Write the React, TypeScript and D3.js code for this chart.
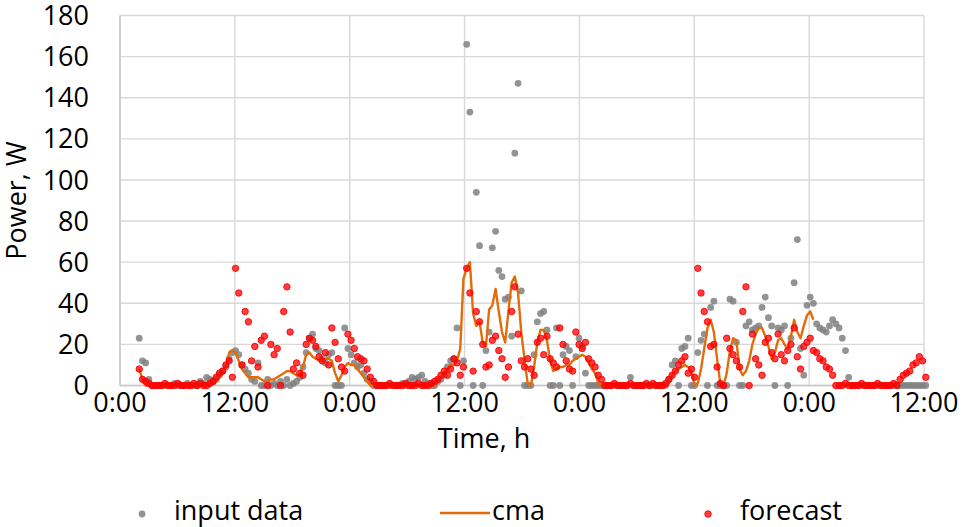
import React from 'react';
import * as d3 from 'd3';

// time of first sample (h) and sampling step (h)
const START_HOUR = 2.01;
const STEP_HOURS = 0.3354;

const xTickHours = [0, 12, 24, 36, 48, 60, 72, 84];
const xTickLabels = ['0:00', '12:00', '0:00', '12:00', '0:00', '12:00', '0:00', '12:00'];
const yTicks = [0, 20, 40, 60, 80, 100, 120, 140, 160, 180];

// input data, W (3 samples per hour, starting 2:00)
const inputData = [
  23, 12, 11, 3, 0, 0, 0, 0, 0, 0, 0, 1, 0, 0, 0, 1, 0, 0, 0, 2, 1, 4, 3, 2,
  3, 5, 7, 9, 13, 16, 17, 15, 10, 8, 6, 3, 2, 11, 0, 0, 3, 0, 1, 0, 2, 0, 3, 0,
  1, 2, 4, 9, 16, 23, 25, 18, 17, 13, 11, 15, 16, 0, 0, 0, 28, 18, 15, 11, 9, 10, 6, 3,
  2, 0, 0, 0, 0, 0, 0, 0, 0, 0, 1, 0, 2, 4, 3, 4, 5, 2, 1, 0, 0, 2, 3, 5,
  9, 12, 13, 28, 0, 12, 166, 133, 0, 94, 68, 0, 17, 26, 67, 75, 56, 53, 42, 43, 24, 113, 147, 46,
  0, 0, 0, 15, 31, 35, 36, 27, 0, 0, 28, 0, 15, 19, 17, 0, 14, 23, 19, 6, 0, 0, 0, 0,
  0, 0, 0, 0, 0, 0, 0, 0, 0, 4, 0, 0, 0, 0, 0, 0, 0, 0, 0, 0, 0, 3, 10, 12,
  0, 18, 19, 23, 0, 0, 16, 22, 25, 0, 38, 41, 0, 0, 0, 0, 42, 41, 21, 0, 0, 29, 31, 27,
  28, 29, 38, 43, 33, 29, 0, 28, 27, 29, 0, 23, 50, 71, 18, 5, 39, 43, 40, 30, 28, 27, 26, 29,
  32, 30, 28, 23, 17, 4, 0, 0, 0, 0, 0, 0, 0, 0, 0, 0, 0, 0, 0, 0, 0, 0, 0, 0,
  0, 0, 0, 0, 0, 0,
];

// cma, W
const cmaData = [
  8, 3, 0, 0, 0, 0, 0, 0, 0, 0, 0, 0, 0, 0, 0, 0, 0, 0, 0, 0, 0, 0, 0, 1,
  2, 4, 6, 8, 16, 17, 16, 12, 8, 6, 4, 4, 4, 4, 3, 2, 2, 3, 3, 4, 5, 6, 7, 7,
  6, 5, 5, 9, 15, 16, 14, 13, 12, 12, 13, 13, 12, 6, 2, 5, 9, 11, 10, 10, 8, 6, 4, 2,
  0, 0, 0, 0, 0, 0, 0, 0, 0, 0, 0, 0, 0, 0, 0, 0, 0, 0, 0, 0, 0, 2, 4, 6,
  8, 10, 10, 12, 18, 52, 57, 60, 35, 29, 31, 21, 19, 37, 39, 47, 36, 26, 21, 36, 50, 53, 45, 26,
  13, 1, 0, 9, 21, 27, 27, 22, 12, 7, 8, 9, 9, 10, 10, 12, 13, 14, 15, 14, 11, 8, 6, 1,
  0, 0, 0, 0, 0, 0, 0, 0, 0, 0, 0, 0, 0, 0, 0, 0, 0, 0, 0, 0, 0, 1, 5, 7,
  8, 9, 10, 9, 7, 0, 1, 8, 18, 28, 32, 26, 13, 1, 0, 6, 17, 23, 22, 8, 5, 7, 12, 20,
  25, 28, 28, 24, 19, 13, 16, 22, 23, 20, 18, 24, 32, 26, 23, 29, 34, 36, 32,
];

// forecast, W
const forecastData = [
  8, 3, 2, 1, 0, 0, 0, 0, 1, 0, 0, 0, 1, 0, 0, 0, 0, 1, 0, 1, 0, 0, 1, 2,
  4, 6, 7, 10, 12, 4, 57, 45, 10, 36, 31, 12, 19, 9, 22, 24, 0, 20, 15, 18, 0, 36, 48, 26,
  8, 11, 6, 5, 20, 23, 22, 19, 14, 12, 16, 10, 28, 21, 13, 9, 7, 25, 22, 18, 14, 13, 12, 8,
  4, 2, 0, 0, 0, 0, 1, 0, 0, 0, 0, 1, 0, 0, 0, 1, 0, 0, 0, 1, 2, 3, 5, 7,
  5, 8, 13, 11, 5, 9, 57, 45, 7, 36, 31, 20, 9, 10, 22, 24, 17, 13, 4, 9, 36, 48, 25, 12,
  9, 13, 8, 5, 21, 23, 15, 24, 13, 11, 9, 28, 20, 12, 8, 7, 26, 20, 18, 21, 13, 11, 9, 5,
  3, 0, 0, 0, 1, 0, 0, 0, 0, 1, 0, 0, 0, 0, 1, 0, 1, 0, 0, 0, 1, 3, 5, 7,
  10, 12, 14, 6, 8, 4, 57, 45, 36, 31, 19, 20, 9, 1, 0, 23, 18, 15, 12, 9, 36, 48, 0, 25,
  13, 10, 5, 21, 23, 16, 13, 25, 15, 12, 17, 20, 28, 14, 8, 19, 21, 23, 17, 16, 13, 12, 9, 8,
  5, 0, 0, 0, 1, 0, 0, 0, 0, 1, 0, 0, 0, 0, 1, 0, 0, 0, 0, 1, 0, 3, 5, 6,
  7, 10, 11, 14, 12, 4,
];

const FONT = "'Open Sans', Lato, 'Liberation Sans', sans-serif";

export default function App() {
  const W = 962;
  const H = 527;
  const x = d3.scaleLinear().domain([0, 84]).range([120, 924]);
  const y = d3.scaleLinear().domain([0, 180]).range([385.5, 15.5]);
  const t = (i: number) => START_HOUR + i * STEP_HOURS;

  const line = d3
    .line<number>()
    .x((_, i) => x(t(i)))
    .y((d) => y(d));

  const grid = '#d9d9d9';
  const fs = 27;
  const capHalf = 9.6;

  return (
    <div style={{ position: 'fixed', left: 0, top: 0 }}>
      <svg width={W} height={H} style={{ display: 'block', background: '#fff' }}>
        {/* horizontal grid */}
        {yTicks.map((v) => (
          <line key={'h' + v} x1={x(0)} x2={x(84)} y1={y(v)} y2={y(v)} stroke={grid} strokeWidth={1.4} />
        ))}
        {/* vertical grid */}
        {xTickHours.map((h) => (
          <line key={'v' + h} x1={x(h)} x2={x(h)} y1={y(0)} y2={y(180)} stroke={grid} strokeWidth={1.4} />
        ))}
        {/* axes */}
        <line x1={x(0)} x2={x(84)} y1={y(0)} y2={y(0)} stroke="#c8c8c8" strokeWidth={1.5} />
        <line x1={x(0)} x2={x(0)} y1={y(0)} y2={y(180)} stroke="#c8c8c8" strokeWidth={1.5} />

        {/* y tick labels */}
        {yTicks.map((v) => (
          <text key={'yl' + v} x={89} y={y(v) + capHalf} textAnchor="end" fontFamily={FONT} fontSize={fs} fill="#000">
            {v}
          </text>
        ))}
        {/* x tick labels */}
        {xTickHours.map((h, i) => (
          <text key={'xl' + h} x={x(h)} y={412} textAnchor="middle" fontFamily={FONT} fontSize={fs} fill="#000">
            {xTickLabels[i]}
          </text>
        ))}

        {/* axis titles */}
        <text x={484} y={448} textAnchor="middle" fontFamily={FONT} fontSize={fs} fill="#000">
          Time, h
        </text>
        <text
          transform={`translate(26,${(y(0) + y(180)) / 2}) rotate(-90)`}
          textAnchor="middle"
          fontFamily={FONT}
          fontSize={fs}
          fill="#000"
        >
          Power, W
        </text>

        {/* input data */}
        <g>
          {inputData.map((v, i) => (
            <circle key={'in' + i} cx={x(t(i))} cy={y(v)} r={3.4} fill="#808080" fillOpacity={0.85} />
          ))}
        </g>
        {/* cma */}
        <path d={line(cmaData) || ''} fill="none" stroke="#e36c0a" strokeWidth={2.4} strokeLinejoin="round" />
        {/* forecast */}
        <g>
          {forecastData.map((v, i) => (
            <circle key={'fc' + i} cx={x(t(i))} cy={y(v)} r={3.2} fill="#ff0000" fillOpacity={0.75} stroke="#ff0000" strokeWidth={1} strokeOpacity={0.9} />
          ))}
        </g>

        {/* legend */}
        <circle cx={142} cy={514} r={3.4} fill="#808080" fillOpacity={0.85} />
        <text x={174} y={520} fontFamily={FONT} fontSize={fs} fill="#000">
          input data
        </text>
        <line x1={440} x2={490} y1={513} y2={513} stroke="#e36c0a" strokeWidth={2.4} />
        <text x={492} y={520} fontFamily={FONT} fontSize={fs} fill="#000">
          cma
        </text>
        <circle cx={708} cy={514} r={3.2} fill="#ff0000" fillOpacity={0.75} stroke="#ff0000" strokeWidth={1} />
        <text x={740} y={520} fontFamily={FONT} fontSize={fs} fill="#000">
          forecast
        </text>
      </svg>
    </div>
  );
}
